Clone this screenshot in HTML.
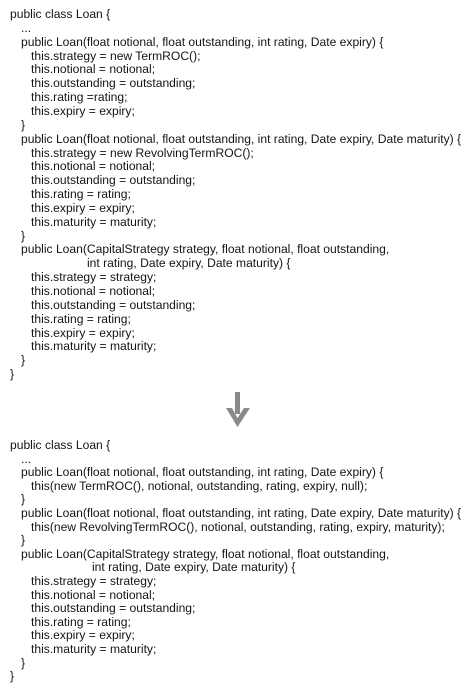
<!DOCTYPE html>
<html><head><meta charset="utf-8"><style>
html,body{margin:0;padding:0;background:#fff;}
body{width:475px;height:688px;position:relative;overflow:hidden;font-family:"Liberation Sans",Arial,sans-serif;font-size:12.1px;color:#141414;}
.l{position:absolute;white-space:pre;line-height:14px;height:14px;}
</style></head><body>
<div id="top"></div>
<svg style="position:absolute;left:0;top:0" width="475" height="688">
<rect x="235" y="392" width="5" height="22" fill="#8a8a8a"/>
<polygon points="226,408 237.5,427 250,408 244,408 237.5,418 232,408" fill="#8a8a8a"/>
</svg>
<div class="l" style="left:10px;top:7px">public class Loan {</div>
<div class="l" style="left:21px;top:20.85px">...</div>
<div class="l" style="left:21px;top:34.7px">public Loan(float notional, float outstanding, int rating, Date expiry) {</div>
<div class="l" style="left:31px;top:48.55px">this.strategy = new TermROC();</div>
<div class="l" style="left:31px;top:62.4px">this.notional = notional;</div>
<div class="l" style="left:31px;top:76.25px">this.outstanding = outstanding;</div>
<div class="l" style="left:31px;top:90.1px">this.rating =rating;</div>
<div class="l" style="left:31px;top:103.95px">this.expiry = expiry;</div>
<div class="l" style="left:21px;top:117.8px">}</div>
<div class="l" style="left:21px;top:131.65px">public Loan(float notional, float outstanding, int rating, Date expiry, Date maturity) {</div>
<div class="l" style="left:31px;top:145.5px">this.strategy = new RevolvingTermROC();</div>
<div class="l" style="left:31px;top:159.35px">this.notional = notional;</div>
<div class="l" style="left:31px;top:173.2px">this.outstanding = outstanding;</div>
<div class="l" style="left:31px;top:187.05px">this.rating = rating;</div>
<div class="l" style="left:31px;top:200.9px">this.expiry = expiry;</div>
<div class="l" style="left:31px;top:214.75px">this.maturity = maturity;</div>
<div class="l" style="left:21px;top:228.6px">}</div>
<div class="l" style="left:21px;top:242.45px">public Loan(CapitalStrategy strategy, float notional, float outstanding,</div>
<div class="l" style="left:87px;top:256.3px">int rating, Date expiry, Date maturity) {</div>
<div class="l" style="left:31px;top:270.15px">this.strategy = strategy;</div>
<div class="l" style="left:31px;top:284px">this.notional = notional;</div>
<div class="l" style="left:31px;top:297.85px">this.outstanding = outstanding;</div>
<div class="l" style="left:31px;top:311.7px">this.rating = rating;</div>
<div class="l" style="left:31px;top:325.55px">this.expiry = expiry;</div>
<div class="l" style="left:31px;top:339.4px">this.maturity = maturity;</div>
<div class="l" style="left:21px;top:353.25px">}</div>
<div class="l" style="left:10px;top:367.1px">}</div>

<div class="l" style="left:10px;top:438px">public class Loan {</div>
<div class="l" style="left:21px;top:451.6px">...</div>
<div class="l" style="left:21px;top:465.2px">public Loan(float notional, float outstanding, int rating, Date expiry) {</div>
<div class="l" style="left:31px;top:478.8px">this(new TermROC(), notional, outstanding, rating, expiry, null);</div>
<div class="l" style="left:21px;top:492.4px">}</div>
<div class="l" style="left:21px;top:506px">public Loan(float notional, float outstanding, int rating, Date expiry, Date maturity) {</div>
<div class="l" style="left:31px;top:519.6px">this(new RevolvingTermROC(), notional, outstanding, rating, expiry, maturity);</div>
<div class="l" style="left:21px;top:533.2px">}</div>
<div class="l" style="left:21px;top:546.8px">public Loan(CapitalStrategy strategy, float notional, float outstanding,</div>
<div class="l" style="left:92px;top:560.4px">int rating, Date expiry, Date maturity) {</div>
<div class="l" style="left:31px;top:574px">this.strategy = strategy;</div>
<div class="l" style="left:31px;top:587.6px">this.notional = notional;</div>
<div class="l" style="left:31px;top:601.2px">this.outstanding = outstanding;</div>
<div class="l" style="left:31px;top:614.8px">this.rating = rating;</div>
<div class="l" style="left:31px;top:628.4px">this.expiry = expiry;</div>
<div class="l" style="left:31px;top:642px">this.maturity = maturity;</div>
<div class="l" style="left:21px;top:655.6px">}</div>
<div class="l" style="left:10px;top:669.2px">}</div>
</body></html>
